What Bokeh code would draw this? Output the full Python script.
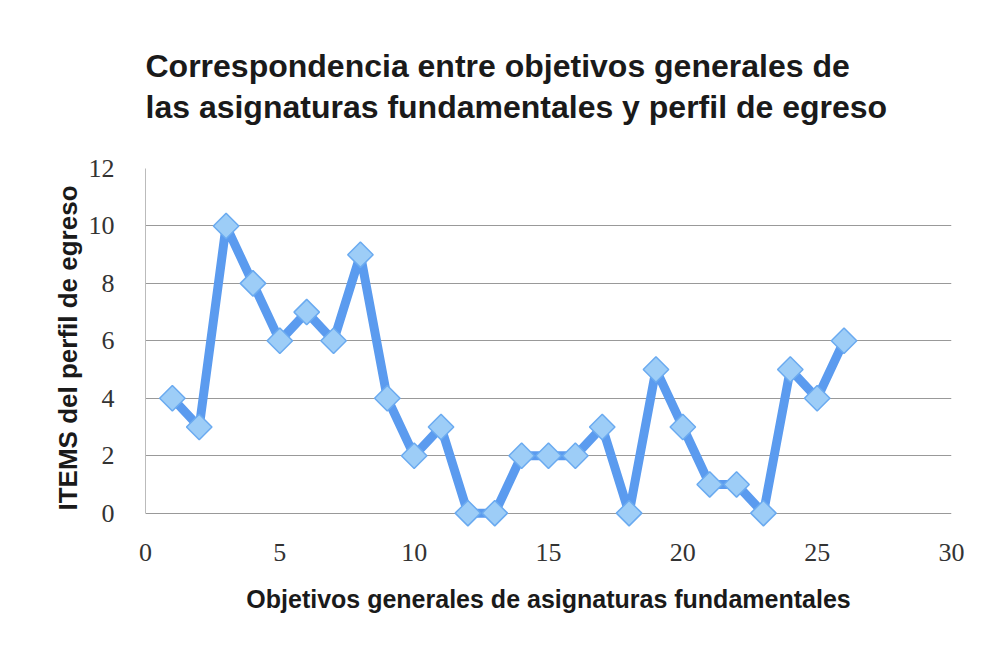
import math
from bokeh.plotting import figure
from bokeh.models import Title, Range1d, FixedTicker, ColumnDataSource
from bokeh.embed import file_html
from bokeh.resources import INLINE

objetivos = list(range(1, 27))
items = [4, 3, 10, 8, 6, 7, 6, 9, 4, 2, 3, 0, 0, 2, 2, 2, 3, 0, 5, 3, 1, 1, 0, 5, 4, 6]
title_lines = ["Correspondencia entre objetivos generales de",
               "las asignaturas fundamentales y perfil de egreso"]
x_label = "Objetivos generales de asignaturas fundamentales"
y_label = "ITEMS del perfil de egreso"
x_ticks = [0, 5, 10, 15, 20, 25, 30]
y_ticks = [0, 2, 4, 6, 8, 10, 12]

src = ColumnDataSource(dict(x=objetivos, y=items))

p = figure(width=969, height=630, output_backend="svg", toolbar_location=None,
           x_range=Range1d(0, 30), y_range=Range1d(-0.5, 12),
           min_border_left=145, min_border_right=18, min_border_top=168,
           min_border_bottom=103)
p.outline_line_color = None
p.border_fill_color = "white"

p.title = Title(text="\n".join(title_lines), align="left", offset=0,
                text_font="Liberation Sans", text_font_size="32px",
                text_font_style="bold", text_color="#1a1a1a",
                text_line_height=1.16, standoff=86)

p.line("x", "y", source=src, line_color="#5B9BEF", line_width=9)
p.scatter("x", "y", source=src, marker="square", size=18, angle=math.pi / 4,
          fill_color="#9DCDF7", line_color="#6AAAF0", line_width=1.5)

p.xaxis.ticker = FixedTicker(ticks=x_ticks)
p.yaxis.ticker = FixedTicker(ticks=y_ticks)
for ax in (p.xaxis, p.yaxis):
    ax.major_label_text_font = "Liberation Serif"
    ax.major_label_text_font_size = "26px"
    ax.major_label_text_color = "#333333"
    ax.axis_label_text_font = "Liberation Sans"
    ax.axis_label_text_font_style = "bold"
    ax.axis_label_text_color = "#1a1a1a"
    ax.major_tick_line_color = None
    ax.minor_tick_line_color = None
p.xaxis.axis_label_text_font_size = "25px"
p.yaxis.axis_label_text_font_size = "26px"
p.xaxis.axis_line_color = None
p.yaxis.axis_line_color = "#bbbbbb"
p.yaxis.bounds = (0, 12)
p.xaxis.axis_label = x_label
p.yaxis.axis_label = y_label
p.xaxis.major_label_standoff = 10
p.yaxis.major_label_standoff = 25
p.xaxis.axis_label_standoff = 21
p.yaxis.axis_label_standoff = 3

p.xgrid.grid_line_color = None
p.ygrid.grid_line_color = "#999999"
p.ygrid.grid_line_width = 1

open("out.html", "w").write(file_html(p, INLINE))
